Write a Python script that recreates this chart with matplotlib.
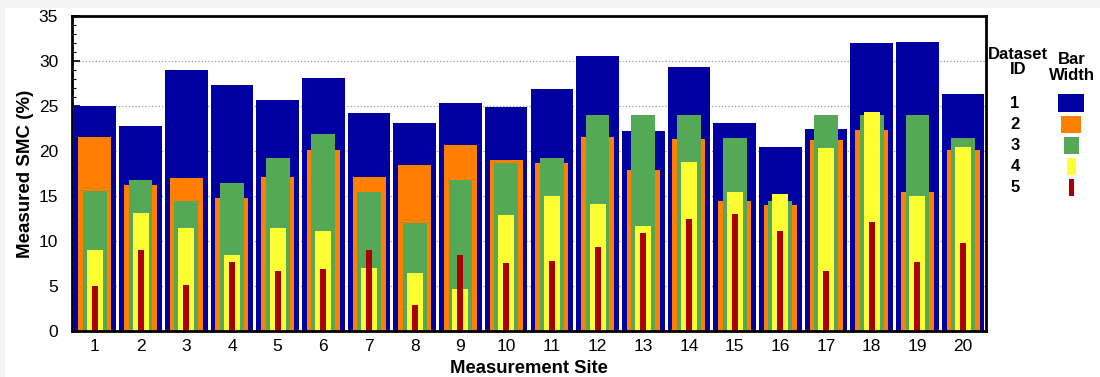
import matplotlib.pyplot as plt
from matplotlib.patches import Rectangle

plt.rcParams['font.family'] = ['Liberation Sans', 'DejaVu Sans']

sites = list(range(1, 21))
dataset_ids = [1, 2, 3, 4, 5]
smc_1 = [25.0, 22.8, 29.0, 27.3, 25.7, 28.1, 24.2, 23.1, 25.3, 24.9,
         26.9, 30.6, 22.2, 29.3, 23.1, 20.5, 22.5, 32.0, 32.1, 26.3]
smc_2 = [21.6, 16.2, 17.0, 14.8, 17.1, 20.1, 17.1, 18.5, 20.7, 19.0,
         18.7, 21.6, 17.9, 21.3, 14.5, 14.0, 21.2, 22.3, 15.4, 20.1]
smc_3 = [15.6, 16.8, 14.4, 16.4, 19.2, 21.9, 15.5, 12.0, 16.8, 18.7,
         19.2, 24.0, 24.0, 24.0, 21.4, 14.4, 24.0, 24.0, 24.0, 21.4]
smc_4 = [9.0, 13.1, 11.5, 8.5, 11.4, 11.1, 7.0, 6.5, 4.7, 12.9,
         15.0, 14.1, 11.7, 18.8, 15.5, 15.2, 20.3, 24.3, 15.0, 20.4]
smc_5 = [5.0, 9.0, 5.1, 7.7, 6.7, 6.9, 9.0, 2.9, 8.5, 7.6,
         7.8, 9.3, 10.9, 12.4, 13.0, 11.1, 6.7, 12.1, 7.7, 9.8]

series = [smc_1, smc_2, smc_3, smc_4, smc_5]
colors = ['#0000A0', '#FF7F00', '#55A855', '#FFFF33', '#AA0000']
widths = [0.93, 0.72, 0.52, 0.35, 0.13]

fig = plt.figure(figsize=(11, 3.77), dpi=100, facecolor='#f4f4f4')
fig.patches.append(Rectangle((5 / 1100, 0), 1, 1 - 8 / 377, transform=fig.transFigure,
                             facecolor='white', edgecolor='none', zorder=-10))
ax = fig.add_axes([72 / 1100, 1 - 331 / 377, (986 - 72) / 1100, (331 - 16) / 377])
ax.set_zorder(1)

for vals, c, w in zip(series, colors, widths):
    ax.bar(sites, vals, width=w, color=c, zorder=2)

ax.set_xlim(0.5, 20.5)
ax.set_ylim(0, 35)
ax.set_xticks(sites)
ax.set_yticks(range(0, 36, 5))
ax.set_yticks(range(0, 36), minor=True)
ax.tick_params(axis='x', which='both', length=0, labelsize=12.5, pad=6)
ax.tick_params(axis='y', which='major', direction='in', length=6, width=1.2,
               labelsize=12.5, pad=10)
ax.tick_params(axis='y', which='minor', direction='in', length=3, width=0.8)
ax.grid(True, axis='y', which='major', linestyle=':', color='#999999', linewidth=0.9, zorder=1)
ax.set_axisbelow(True)
for s in ax.spines.values():
    s.set_linewidth(2)
    s.set_zorder(5)

ax.set_xlabel('Measurement Site', fontsize=13.3, fontweight='bold', labelpad=4)
ax.set_ylabel('Measured SMC (%)', fontsize=13.5, fontweight='bold', labelpad=3)

# legend drawn in pixel coordinates of the figure
W, H = 1100, 377
fig.text(1018 / W, 1 - 62 / H, 'Dataset\nID', ha='center', va='center', fontsize=12,
         fontweight='bold', linespacing=1.0)
fig.text(1072 / W, 1 - 67.5 / H, 'Bar\nWidth', ha='center', va='center', fontsize=12,
         fontweight='bold', linespacing=1.0)
px_widths = [26, 20, 15, 9, 5]
for i, (d, c, pw) in enumerate(zip(dataset_ids, colors, px_widths)):
    yc = 103 + i * 21.2
    fig.text(1015 / W, 1 - yc / H, str(d), ha='center', va='center', fontsize=12,
             fontweight='bold')
    fig.patches.append(Rectangle(((1071 - pw / 2) / W, 1 - (yc + 8.5) / H), pw / W, 17 / H,
                                 transform=fig.transFigure, facecolor=c, edgecolor='none'))

fig.savefig('out.png', dpi=100, facecolor=fig.get_facecolor())
